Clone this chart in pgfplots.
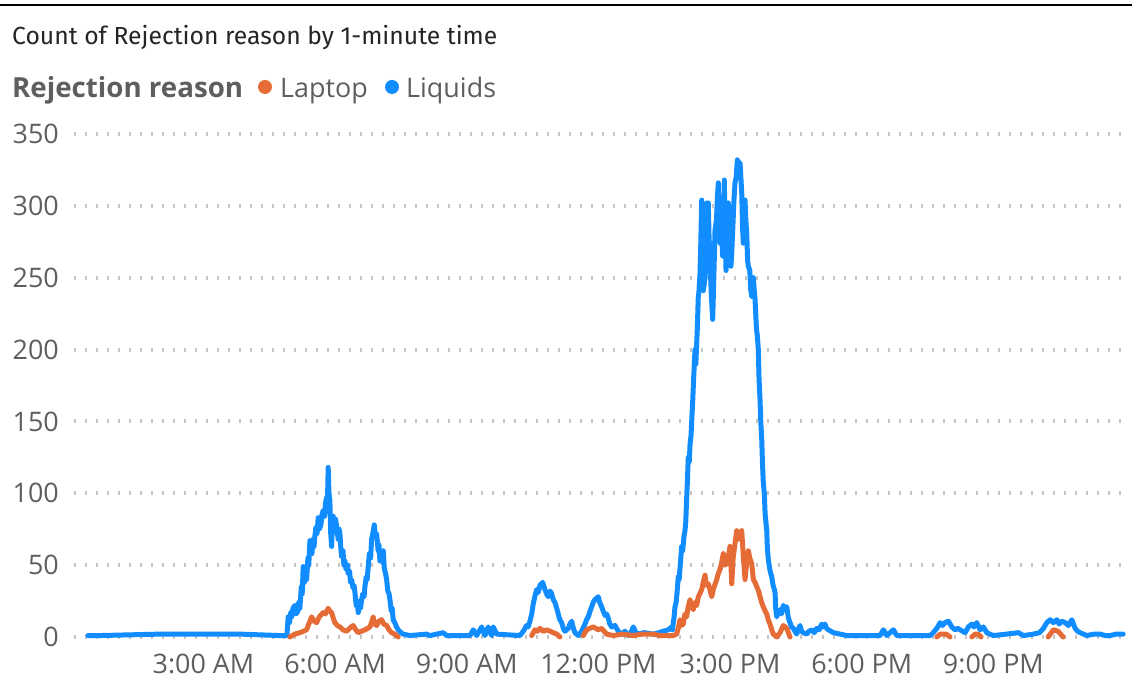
\documentclass[border=0pt]{standalone}
\usepackage{pgfplots}
\pgfplotsset{compat=1.18}
\usepackage{fontspec}
\setmainfont{Open Sans}
\newfontfamily\titlefont{Fira Sans}
\definecolor{liquids}{HTML}{118DFF}
\definecolor{laptop}{HTML}{E66C37}
\definecolor{ticktext}{HTML}{605E5C}
\definecolor{titletext}{HTML}{252423}
\definecolor{gridc}{HTML}{C8C6C4}

\begin{document}
\begin{tikzpicture}[x=1bp,y=1bp]
\useasboundingbox (0,0) rectangle (1132,690);
% frame line along the top of the visual
\draw[line width=2.6bp, black] (0,685) -- (1132,685);
% title
\node[anchor=base west, inner sep=0pt, text=titletext] at (12,645)
  {\titlefont\fontsize{24.8}{28}\selectfont Count of Rejection reason by 1-minute time};
% legend
\node[anchor=base west, inner sep=0pt, text=ticktext] at (12,592)
  {\fontsize{27.8}{32}\selectfont\bfseries Rejection reason};
\fill[laptop] (265,603) circle (7);
\node[anchor=base west, inner sep=0pt, text=ticktext] at (280,592)
  {\fontsize{27}{32}\selectfont Laptop};
\fill[liquids] (392,603) circle (7);
\node[anchor=base west, inner sep=0pt, text=ticktext] at (406,592)
  {\fontsize{27}{32}\selectfont Liquids};

\begin{axis}[
  at={(74bp,53bp)}, anchor=south west,
  scale only axis, width=1051bp, height=503bp,
  xmin=0.05, xmax=24, ymin=0, ymax=350,
  clip=false,
  axis line style={draw=none},
  major tick length=0pt,
  tick style={draw=none},
  ytick={0,50,...,350},
  xtick={3,6,9,12,15,18,21},
  xticklabels={3:00 AM,6:00 AM,9:00 AM,12:00 PM,3:00 PM,6:00 PM,9:00 PM},
  ymajorgrids,
  grid style={gridc, line width=4bp, dash pattern=on 1.6bp off 9.4bp},
  /pgf/number format/assume math mode=true,
  tick label style={font=\fontsize{27}{32}\selectfont, text=ticktext},
  yticklabel style={anchor=east, inner sep=0pt, xshift=-15bp},
  xticklabel style={anchor=north, inner sep=0pt, yshift=-17bp},
  unbounded coords=jump,
  every axis plot/.append style={line width=5bp, line join=round, line cap=round},
]
% Liquids, counts per minute (time in hours)
\addplot[liquids] coordinates {
(0.365,1) (0.638,1) (1.322,1.5) (2.006,2) (2.918,2) (3.830,2) (4.285,1.5) (4.741,1) (4.901,1)
(4.931,14) (4.96,10) (4.99,17) (5.008,14) (5.04,20) (5.083,22) (5.11,16) (5.152,18) (5.17,24)
(5.197,20) (5.23,35) (5.25,30) (5.273,49) (5.30,38) (5.32,45) (5.350,40) (5.38,55) (5.40,50)
(5.425,67) (5.45,60) (5.471,58) (5.50,68) (5.52,63) (5.539,70) (5.56,76) (5.59,72) (5.614,83)
(5.64,75) (5.676,78) (5.70,85) (5.728,88) (5.76,84) (5.78,93) (5.806,97) (5.825,92) (5.842,118)
(5.86,100) (5.881,95) (5.90,72) (5.920,63) (5.94,80) (5.956,84) (5.99,74) (6.01,82) (6.034,77)
(6.07,68) (6.09,75) (6.109,72) (6.13,62) (6.148,56) (6.18,60) (6.20,50) (6.223,53) (6.25,47)
(6.28,50) (6.299,44) (6.33,46) (6.35,38) (6.376,40) (6.41,34) (6.43,36) (6.452,31) (6.48,22)
(6.50,25) (6.527,17) (6.56,22) (6.58,20) (6.604,26) (6.63,30) (6.66,28) (6.679,35) (6.71,42)
(6.73,40) (6.755,49) (6.78,58) (6.81,55) (6.832,68) (6.86,72) (6.892,78) (6.92,70) (6.946,72)
(6.98,60) (7.00,64) (7.021,53) (7.05,58) (7.08,52) (7.097,60) (7.12,48) (7.15,44) (7.174,40)
(7.20,32) (7.23,30) (7.249,26) (7.28,18) (7.30,20) (7.324,12) (7.36,10) (7.40,7) (7.438,5)
(7.50,3) (7.552,2) (7.705,1)
(8.086,2) (8.161,1) (8.464,3) (8.541,1) (9.073,1) (9.148,5) (9.225,1) (9.339,7) (9.414,1)
(9.490,7) (9.567,1) (9.604,7) (9.681,2) (10.212,1) (10.288,4) (10.365,8) (10.40,7) (10.440,11)
(10.48,16) (10.515,23) (10.55,28) (10.593,33) (10.63,31) (10.668,36) (10.729,38) (10.76,35)
(10.782,33) (10.82,30) (10.857,28) (10.90,32) (10.935,30) (10.97,26) (11.010,24) (11.05,20)
(11.085,16) (11.12,12) (11.163,10) (11.20,6) (11.238,4) (11.313,6) (11.35,9) (11.391,11)
(11.43,6) (11.466,3) (11.541,1) (11.618,4) (11.694,9) (11.73,12) (11.769,14) (11.81,18)
(11.846,21) (11.88,24) (11.922,26) (11.997,28) (12.03,24) (12.074,21) (12.11,18) (12.150,15)
(12.19,16) (12.225,13) (12.26,9) (12.302,7) (12.378,8) (12.453,4) (12.530,2) (12.605,4)
(12.681,1) (12.74,3) (12.795,7) (12.872,2) (13.05,3) (13.251,2) (13.38,3) (13.479,4) (13.592,5)
(13.670,7) (13.69,5) (13.706,10) (13.725,14) (13.745,21) (13.77,24) (13.79,30) (13.820,42)
(13.84,40) (13.87,52) (13.898,63) (13.92,60) (13.95,70) (13.973,74) (13.99,80) (14.012,97)
(14.03,110) (14.048,125) (14.07,122) (14.09,135) (14.11,140) (14.126,150) (14.15,165)
(14.17,180) (14.201,200) (14.22,190) (14.253,214) (14.276,237) (14.29,240) (14.315,253)
(14.33,270) (14.354,304) (14.37,260) (14.390,241) (14.41,245) (14.429,250) (14.45,280)
(14.468,302) (14.485,298) (14.504,302) (14.52,280) (14.543,262) (14.57,240) (14.604,221)
(14.63,250) (14.657,283) (14.69,290) (14.71,305) (14.732,316) (14.75,290) (14.771,274)
(14.80,285) (14.832,265) (14.85,290) (14.869,318) (14.89,280) (14.908,255) (14.93,270)
(14.960,302) (14.98,280) (14.999,262) (15.02,258) (15.038,267) (15.07,290) (15.09,305)
(15.113,316) (15.14,320) (15.166,332) (15.19,328) (15.227,330) (15.25,318) (15.266,309)
(15.285,285) (15.302,274) (15.32,290) (15.341,304) (15.36,290) (15.380,281) (15.40,262)
(15.416,258) (15.45,255) (15.47,242) (15.494,237) (15.51,245) (15.531,250) (15.55,242)
(15.569,235) (15.60,215) (15.62,210) (15.644,200) (15.66,180) (15.683,165) (15.70,150)
(15.722,137) (15.74,120) (15.758,107) (15.78,100) (15.80,85) (15.836,74) (15.85,62)
(15.872,54) (15.90,48) (15.92,45) (15.949,42) (15.98,36) (16.00,34) (16.025,31) (16.04,20)
(16.063,14) (16.10,17) (16.139,19) (16.17,16) (16.214,22) (16.25,19) (16.291,21) (16.33,13)
(16.366,10) (16.40,7) (16.442,6) (16.48,4) (16.519,2) (16.55,5) (16.594,8) (16.63,4) (16.670,3)
(16.747,2) (16.80,4) (16.861,5) (16.92,3) (16.975,6) (17.03,5) (17.089,9) (17.12,7) (17.164,9)
(17.20,6) (17.240,5) (17.30,4) (17.354,3) (17.507,2) (17.659,1) (18.418,1) (18.494,5)
(18.571,1) (18.722,5) (18.799,1) (19.558,1) (19.63,3) (19.711,6) (19.75,8) (19.786,10)
(19.84,8) (19.900,10) (19.975,11) (20.053,7) (20.128,5) (20.19,6) (20.242,5) (20.356,3)
(20.431,7) (20.509,9) (20.56,7) (20.622,10) (20.698,5) (20.773,7) (20.850,3) (20.92,2)
(21.001,1) (21.30,2) (21.571,3) (21.685,1) (21.913,2) (22.05,3) (22.141,6) (22.218,10)
(22.293,12) (22.369,10) (22.446,12) (22.50,9) (22.560,11) (22.635,10) (22.710,8) (22.788,12)
(22.863,6) (22.92,4) (22.977,3) (23.130,1) (23.30,2) (23.434,2) (23.55,1) (23.662,1)
(23.80,2) (23.957,2)
};
% Laptop, counts per minute (gaps where there were none)
\addplot[laptop] coordinates {
(4.969,0) (5.08,2) (5.197,3) (5.28,4) (5.350,5) (5.40,9) (5.464,14) (5.52,11) (5.578,10)
(5.64,14) (5.728,17) (5.78,16) (5.842,20) (5.88,18) (5.920,17) (5.96,13) (5.995,10) (6.05,8)
(6.109,7) (6.18,5) (6.262,4) (6.33,6) (6.412,8) (6.47,5) (6.527,3) (6.60,4) (6.679,5) (6.74,6)
(6.793,7) (6.83,10) (6.868,14) (6.90,9) (6.946,8) (7.00,11) (7.060,12) (7.11,9) (7.174,8)
(7.23,5) (7.287,3) (7.36,2) (7.438,0) (7.5,nan)
(10.479,1) (10.554,5) (10.61,4) (10.668,6) (10.743,4) (10.821,5) (10.90,4) (10.971,3)
(11.05,2) (11.124,0) (11.2,nan)
(11.655,1) (11.732,5) (11.80,6) (11.883,7) (11.94,6) (11.997,5) (12.074,6) (12.13,4)
(12.188,2) (12.339,1) (12.55,2) (12.795,1) (13.00,2) (13.251,2) (13.40,1) (13.556,1)
(13.70,1) (13.783,2) (13.82,6) (13.859,12) (13.89,8) (13.934,9) (13.95,13) (13.973,16)
(14.01,14) (14.04,20) (14.087,26) (14.12,22) (14.162,19) (14.20,24) (14.24,22) (14.276,28)
(14.31,30) (14.354,33) (14.39,38) (14.429,43) (14.46,36) (14.504,37) (14.54,33) (14.582,28)
(14.618,33) (14.65,36) (14.696,40) (14.73,44) (14.771,47) (14.81,52) (14.846,58) (14.88,50)
(14.924,51) (14.96,56) (14.999,63) (15.02,50) (15.038,37) (15.07,55) (15.113,65) (15.152,74)
(15.19,68) (15.227,70) (15.266,74) (15.302,56) (15.341,40) (15.38,52) (15.416,60) (15.45,55)
(15.494,51) (15.531,40) (15.57,38) (15.608,35) (15.65,32) (15.683,28) (15.72,24) (15.758,21)
(15.80,18) (15.836,16) (15.87,12) (15.911,9) (15.95,5) (15.986,2) (16.063,0) (16.139,3)
(16.214,8) (16.291,6) (16.366,0) (16.4,nan)
(19.711,0) (19.786,2) (19.923,2) (20.013,0) (20.1,nan)
(20.509,0) (20.584,2) (20.650,2) (20.720,0) (20.8,nan)
(22.248,0) (22.369,5) (22.475,4) (22.590,0)
};
\end{axis}
\end{tikzpicture}
\end{document}
